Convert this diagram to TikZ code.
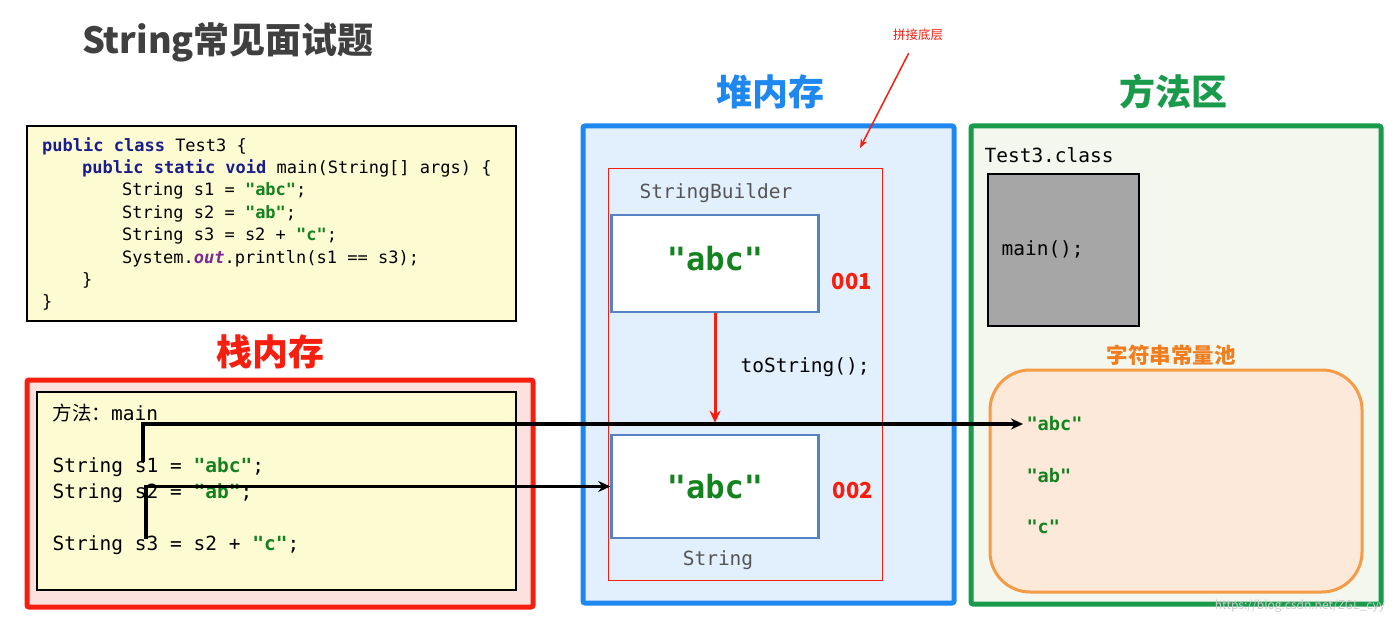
\documentclass[tikz,border=0pt]{standalone}
\usepackage{fontspec}
\setmonofont{DejaVu Sans Mono}
\newfontfamily\cjk{Noto Sans CJK SC}
\usetikzlibrary{arrows.meta, positioning}
\definecolor{titlegray}{RGB}{64,64,64}
\definecolor{codeyellow}{RGB}{253,251,210}
\definecolor{keyblue}{RGB}{25,30,140}
\definecolor{strgreen}{RGB}{20,130,30}
\definecolor{outpurple}{RGB}{125,40,150}
\definecolor{stackred}{RGB}{245,30,15}
\definecolor{stackfill}{RGB}{251,226,222}
\definecolor{heapblue}{RGB}{30,135,240}
\definecolor{heapfill}{RGB}{226,239,252}
\definecolor{objblue}{RGB}{85,130,195}
\definecolor{methodgreen}{RGB}{25,155,75}
\definecolor{methodfill}{RGB}{243,247,238}
\definecolor{classgray}{RGB}{166,166,166}
\definecolor{poolorange}{RGB}{245,155,70}
\definecolor{poolfill}{RGB}{253,233,217}
\definecolor{pooltext}{RGB}{240,125,30}
\definecolor{labelgray}{RGB}{85,85,85}
\newcommand{\jkw}[1]{\textcolor{keyblue}{\textbf{#1}}}
\newcommand{\jstr}[1]{\textcolor{strgreen}{\textbf{#1}}}
\tikzstyle{region} = [rectangle, rounded corners=2pt, line width=5pt]
\tikzstyle{codebox} = [rectangle, draw=black, line width=2pt, fill=codeyellow]
\tikzstyle{object} = [rectangle, draw=objblue, line width=2.5pt, fill=white, minimum width=207pt, text=strgreen, font=\ttfamily\bfseries\fontsize{32}{36}\selectfont]
\tikzstyle{addr} = [text=stackred, font=\cjk\bfseries\fontsize{22}{24}\selectfont]
\tikzstyle{memtitle} = [font=\cjk\bfseries\fontsize{36}{40}\selectfont]
\tikzstyle{mono} = [font=\ttfamily\fontsize{19.5}{24}\selectfont]
\tikzstyle{poolstr} = [text=strgreen, font=\ttfamily\bfseries\fontsize{18.6}{22}\selectfont]
\tikzstyle{refarrow} = [line width=3.5pt, -{Stealth[length=12pt, width=11pt]}]
\tikzstyle{redarrow} = [stackred, line width=3pt, -{Stealth[length=12pt, width=11pt]}]

\begin{document}
\begin{tikzpicture}[x=1pt, y=-1pt]
\useasboundingbox[fill=white] (0,0) rectangle (1400,623);

% Title
\node[text=titlegray, font=\cjk\bfseries\fontsize{36}{40}\selectfont] (title) at (228,42) {String常见面试题};

% Source code
\node[codebox, minimum width=489pt, minimum height=195pt] (code) at (271.5,223.5) {};
\node[anchor=north west, align=left, inner sep=0pt, font=\ttfamily\fontsize{17}{22.4}\selectfont] (codetext) at (42,137) {
\jkw{public class} Test3 \{\\
\hspace*{40pt}\jkw{public static void} main(String[] args) \{\\
\hspace*{80pt}String s1 = \jstr{"abc"};\\
\hspace*{80pt}String s2 = \jstr{"ab"};\\
\hspace*{80pt}String s3 = s2 + \jstr{"c"};\\
\hspace*{80pt}System.\textcolor{outpurple}{\textbf{\textit{out}}}.println(s1 == s3);\\
\hspace*{40pt}\}\\
\}};

% Stack memory
\node[memtitle, text=stackred] (stacklabel) at (270,352) {栈内存};
\node[region, draw=stackred, fill=stackfill, minimum width=506pt, minimum height=227pt] (stack) at (280,493.5) {};
\node[codebox, minimum width=479pt, minimum height=198pt] (frame) at (276.5,491) {};
\node[mono, anchor=north west, align=left, inner sep=0pt, font=\ttfamily\fontsize{19.5}{26}\selectfont] (frametext) at (52.5,404) {
{\cjk 方法：}main\\[26pt]
String s1 = \jstr{"abc"};\\
String s2 = \jstr{"ab"};\\[26pt]
String s3 = s2 + \jstr{"c"};};
\coordinate (s1ref) at (143,462);
\coordinate (s3ref) at (146,539);

% Heap memory
\node[memtitle, text=heapblue] (heaplabel) at (770,92) {堆内存};
\node[region, draw=heapblue, fill=heapfill, minimum width=371pt, minimum height=477pt] (heap) at (768.5,364.5) {};
\node[rectangle, draw=stackred, line width=1pt, minimum width=274pt, minimum height=412pt] (concat) at (745,374) {};
\node[text=stackred, font=\cjk\fontsize{12.5}{14}\selectfont] (concatnote) at (918,35) {拼接底层};
\coordinate (concattip) at (860,148);
\draw[stackred, line width=1.5pt, -{Stealth[length=9pt, width=7pt]}, shorten <=10pt] (concatnote) -- (concattip);

\node[mono, text=labelgray] (sblabel) at (716,193) {StringBuilder};
\node[object, minimum height=97pt, text depth=11pt] (sb) at (715,263.5) {"abc"};
\node[addr] (addr1) at (852,282) {001};
\node[mono, anchor=west] (tostr) at (737,367) {toString();};
\node[object, minimum height=103pt] (str) at (715,486.5) {"abc"};
\node[addr] (addr2) at (853,491) {002};
\node[mono, text=labelgray] (strlabel) at (718,560) {String};
\draw[redarrow, shorten >=11pt] (sb) -- (str);

% Method area
\node[memtitle, text=methodgreen] (methodlabel) at (1173,92) {方法区};
\node[region, draw=methodgreen, fill=methodfill, minimum width=410pt, minimum height=478pt] (method) at (1176,365) {};
\node[mono, anchor=west] (classname) at (981,155) {Test3.class};
\node[rectangle, draw=black, line width=2pt, fill=classgray, minimum width=151pt, minimum height=152pt] (classbox) at (1063.5,250) {};
\node[mono, anchor=west] (mainsig) at (998,249) {main();};
\node[text=pooltext, font=\cjk\bfseries\fontsize{21.5}{24}\selectfont] (poollabel) at (1171,355) {字符串常量池};
\node[rectangle, rounded corners=40pt, draw=poolorange, line width=3pt, fill=poolfill, minimum width=372pt, minimum height=222pt] (pool) at (1176,481) {};
\node[poolstr, anchor=west] (pabc) at (1023,424) {"abc"};
\node[poolstr, anchor=west] (pab) at (1023,476) {"ab"};
\node[poolstr, anchor=west] (pc) at (1023,527) {"c"};

\node[text=gray!40, font=\cjk\fontsize{12}{14}\selectfont] (mark) at (1300,606) {https://blog.csdn.net/ZGL\_cyy};

% References
\draw[refarrow] (s1ref) |- (pabc.west);
\draw[refarrow] (s3ref) |- (str.west);

\end{tikzpicture}
\end{document}
